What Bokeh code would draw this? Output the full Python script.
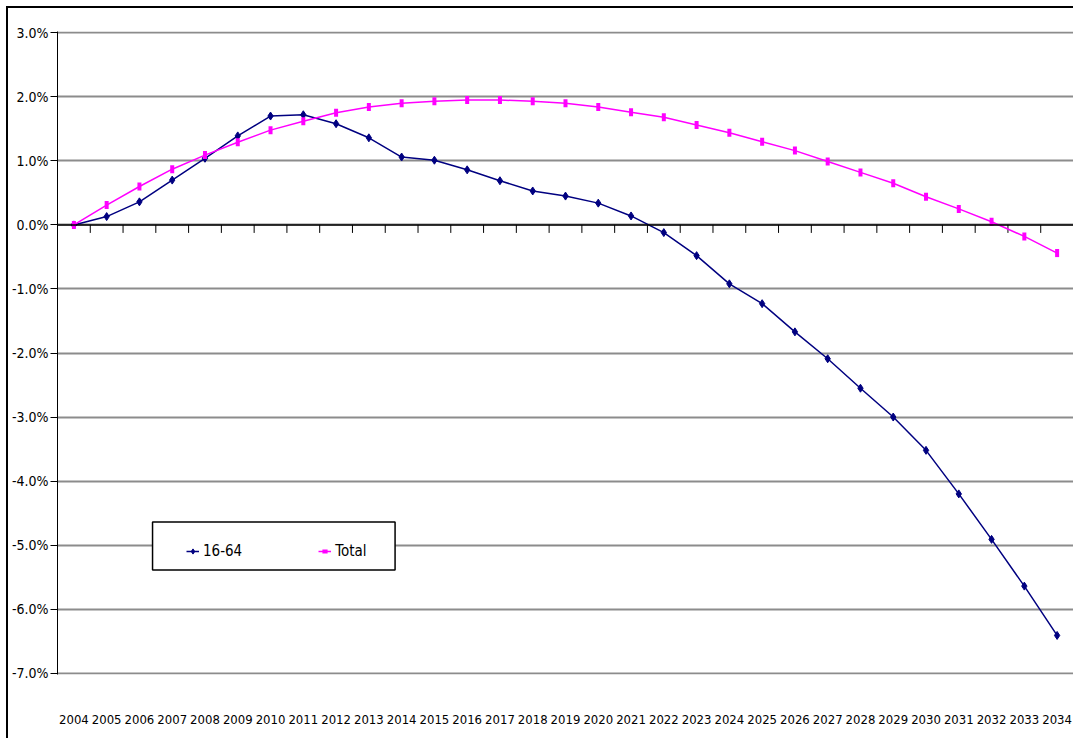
import math
from bokeh.plotting import figure
from bokeh.models import (Range1d, FixedTicker, PrintfTickFormatter, Span, Legend,
                          LegendItem, BoxAnnotation, ColumnDataSource)
from bokeh.embed import file_html
from bokeh.resources import INLINE

years = list(range(2004, 2035))
age_16_64 = [0.00, 0.13, 0.36, 0.70, 1.04, 1.39, 1.70, 1.72, 1.58, 1.36,
             1.06, 1.01, 0.86, 0.69, 0.53, 0.45, 0.34, 0.14, -0.12, -0.48,
             -0.92, -1.23, -1.67, -2.09, -2.55, -3.00, -3.52, -4.20, -4.91, -5.64,
             -6.41]
total = [0.00, 0.31, 0.60, 0.87, 1.09, 1.29, 1.48, 1.62, 1.75, 1.84,
         1.90, 1.93, 1.95, 1.95, 1.93, 1.90, 1.84, 1.76, 1.68, 1.56,
         1.44, 1.30, 1.16, 0.99, 0.82, 0.65, 0.44, 0.25, 0.05, -0.18,
         -0.44]
y_ticks = [3, 2, 1, 0, -1, -2, -3, -4, -5, -6, -7]
series_names = ["16-64", "Total"]

FONT = "DejaVu Sans Condensed"

p = figure(frame_width=1016, frame_height=643, min_border_left=49, min_border_top=23,
           min_border_bottom=64, min_border_right=0,
           x_range=Range1d(years[0] - 0.5, years[-1] + 0.5),
           y_range=Range1d(-7.02, 3.02),
           output_backend="svg", toolbar_location=None, margin=(6, 0, 0, 6))
p.styles = {"border-left": "2px solid black", "border-top": "2px solid black"}
p.outline_line_color = None
p.background_fill_color = "white"
p.border_fill_color = "white"

p.xgrid.grid_line_color = None
p.ygrid.ticker = FixedTicker(ticks=y_ticks)
p.ygrid.grid_line_color = "#8c8c8c"
p.ygrid.grid_line_width = 2

p.yaxis.ticker = FixedTicker(ticks=y_ticks)
p.yaxis.formatter = PrintfTickFormatter(format="%.1f%%")
p.yaxis.major_label_text_font = FONT
p.yaxis.major_label_text_font_size = "14px"
p.yaxis.major_label_text_color = "black"
p.yaxis.axis_line_color = "black"
p.yaxis.major_tick_line_color = "black"
p.yaxis.major_tick_out = 7
p.yaxis.major_tick_in = 0
p.yaxis.minor_tick_line_color = None
p.yaxis.major_label_standoff = 2

p.xaxis.ticker = FixedTicker(ticks=years)
p.xaxis.major_label_text_font = FONT
p.xaxis.major_label_text_font_size = "13px"
p.xaxis.major_label_text_color = "black"
p.xaxis.axis_line_color = None
p.xaxis.major_tick_line_color = None
p.xaxis.minor_tick_line_color = None
p.xaxis.major_label_standoff = 34

p.add_layout(Span(location=0, dimension="width", line_color="black", line_width=1.5))
bounds = [y + 0.5 for y in years[:-1]]
tick_len = 8 / (643 / 10.04)
p.segment(x0=bounds, y0=[0] * len(bounds), x1=bounds, y1=[-tick_len] * len(bounds),
          line_color="black", line_width=1)

src = ColumnDataSource(dict(x=years, a=age_16_64, t=total))

l1 = p.line("x", "a", source=src, line_color="#000080", line_width=1.5)
m1 = p.scatter("x", "a", source=src, marker="diamond", size=8,
               fill_color="#000080", line_color="#000080")
l2 = p.line("x", "t", source=src, line_color="#ff00ff", line_width=1.5)
m2 = p.scatter("x", "t", source=src, marker="dash", size=8, angle=math.pi / 2,
               line_color="#ff00ff", line_width=4)

p.add_layout(BoxAnnotation(left=2006.4, right=2013.8, top=-4.64, bottom=-5.39,
                           fill_color="white", fill_alpha=1.0, line_color="black",
                           line_width=1.5, line_alpha=1.0))

legend = Legend(items=[LegendItem(label=series_names[0], renderers=[l1, m1]),
                       LegendItem(label=series_names[1], renderers=[l2, m2])],
                orientation="horizontal", location=(129, 114), padding=4,
                spacing=76, glyph_width=13, glyph_height=16, label_standoff=4,
                label_text_font=FONT, label_text_font_size="15px",
                label_text_color="black",
                border_line_color=None, background_fill_alpha=0.0)
p.add_layout(legend)

open("out.html", "w").write(file_html(p, INLINE))
